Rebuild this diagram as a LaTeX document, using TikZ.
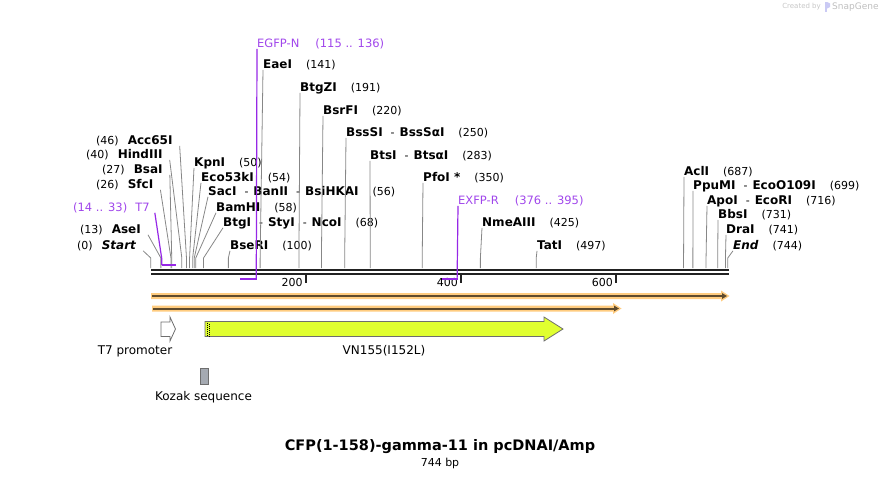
\documentclass[tikz,border=0pt]{standalone}
\usepackage{fontspec}
\setmainfont{DejaVu Sans}
\usetikzlibrary{arrows.meta}

\definecolor{mapline}{RGB}{34,34,34}
\definecolor{leadgray}{RGB}{135,135,135}
\definecolor{primer}{RGB}{150,40,230}
\definecolor{primertext}{RGB}{160,70,235}
\definecolor{orfband}{RGB}{255,204,128}
\definecolor{orfdark}{RGB}{95,75,45}
\definecolor{cdsfill}{RGB}{224,255,48}
\definecolor{kozakfill}{RGB}{165,170,178}
\definecolor{featedge}{RGB}{110,110,110}

\newcommand{\nm}[1]{{\fontsize{12}{14}\selectfont\bfseries #1}}
\newcommand{\sepr}{\hspace{8pt}-\hspace{5pt}}
\newcommand{\gapr}{\hspace{14pt}}
\newcommand{\gapl}{\hspace{9pt}}

% site label right of its cut, leader from the left corner
\newcommand{\rsite}[5]{%
    \node[site label] (l#1) at (#3,#4) {#2};
    \coordinate (k#1) at ({150.8+0.7755*#5},258);
    \coordinate (b#1) at ({150.8+0.7755*#5},268);
    \draw[leader] (l#1.south west) -- (k#1) -- (b#1);}
% site label left of its cut, leader from the right corner
\newcommand{\lsite}[5]{%
    \node[site label] (l#1) at (#3,#4) {#2};
    \coordinate (k#1) at ({150.8+0.7755*#5},258);
    \coordinate (b#1) at ({150.8+0.7755*#5},268);
    \draw[leader] ([xshift=7pt]l#1.south east) -- (k#1) -- (b#1);}

\begin{document}
\begin{tikzpicture}[x=1pt, y=-1pt,
    site label/.style={anchor=west, inner sep=0pt, text height=10pt, text depth=1.2pt, font=\fontsize{11}{13}\selectfont},
    primer label/.style={site label, text=primertext, font=\fontsize{11.5}{13}\selectfont},
    leader/.style={draw=leadgray, line width=0.8pt},
    primer line/.style={draw=primer, line width=1.2pt},
    primer bar/.style={draw=primer, line width=2.2pt},
    backbone/.style={draw=mapline, line width=2.3pt},
    feat label/.style={inner sep=0pt, font=\fontsize{12}{14}\selectfont},
    scale label/.style={anchor=east, inner sep=0pt, font=\fontsize{11}{13}\selectfont}]
    \useasboundingbox (0,0) rectangle (881,479);

    % backbone and scale
    \draw[backbone] (151,270) -- (729,270);
    \draw[backbone] (151,274.3) -- (729,274.3);
    \foreach \bp in {200,400,600}{
        \coordinate (t\bp) at ({150.8+0.7755*\bp},275);
        \draw[mapline, line width=1.6pt] (t\bp) -- ++(0,8);
        \node[scale label] (n\bp) at ([xshift=-3pt, yshift=-7pt]t\bp) {\bp};
    }

    % sites left of the cluster
    \lsite{Start}{(0)\gapl\nm{\itshape Start}}{77}{245}{0}
    \lsite{AseI}{(13)\gapl\nm{AseI}}{80}{229}{13}
    \lsite{SfcI}{(26)\gapl\nm{SfcI}}{96}{184}{26}
    \lsite{BsaI}{(27)\gapl\nm{BsaI}}{102}{169}{27}
    \lsite{HindIII}{(40)\gapl\nm{HindIII}}{86}{154}{40}
    \lsite{Acc}{(46)\gapl\nm{Acc65I}}{96}{140}{46}

    % sites right of their cuts
    \rsite{KpnI}{\nm{KpnI}\gapr(50)}{194}{162}{50}
    \rsite{Eco}{\nm{Eco53kI}\gapr(54)}{201}{177}{54}
    \rsite{SacI}{\nm{SacI}\sepr\nm{BanII}\sepr\nm{BsiHKAI}\gapr(56)}{208}{191}{56}
    \rsite{BamHI}{\nm{BamHI}\gapr(58)}{216}{207}{58}
    \rsite{BtgI}{\nm{BtgI}\sepr\nm{StyI}\sepr\nm{NcoI}\gapr(68)}{223}{222}{68}
    \rsite{BseRI}{\nm{BseRI}\gapr(100)}{230}{245}{100}
    \rsite{EaeI}{\nm{EaeI}\gapr(141)}{263}{64}{141}
    \rsite{BtgZI}{\nm{BtgZI}\gapr(191)}{300}{87}{191}
    \rsite{BsrFI}{\nm{BsrFI}\gapr(220)}{323}{110}{220}
    \rsite{BssSI}{\nm{BssSI}\sepr\nm{BssSαI}\gapr(250)}{346}{132}{250}
    \rsite{BtsI}{\nm{BtsI}\sepr\nm{BtsαI}\gapr(283)}{370}{155}{283}
    \rsite{PfoI}{\nm{PfoI *}\gapr(350)}{423}{177}{350}
    \rsite{Nme}{\nm{NmeAIII}\gapr(425)}{482}{222}{425}
    \rsite{TatI}{\nm{TatI}\gapr(497)}{537}{245}{497}
    \rsite{AclI}{\nm{AclI}\gapr(687)}{684}{171}{687}
    \rsite{PpuMI}{\nm{PpuMI}\sepr\nm{EcoO109I}\gapr(699)}{693}{185}{699}
    \rsite{ApoI}{\nm{ApoI}\sepr\nm{EcoRI}\gapr(716)}{707}{200}{716}
    \rsite{BbsI}{\nm{BbsI}\gapr(731)}{718}{214}{731}
    \rsite{DraI}{\nm{DraI}\gapr(741)}{726}{229}{741}
    \rsite{End}{\nm{\itshape End}\gapr(744)}{733}{245}{744}

    % primers
    \node[primer label] (pT7) at (73,207) {(14 .. 33)\hspace{8pt}T7};
    \coordinate (pT7k) at ({150.8+0.7755*14},258);
    \coordinate (pT7a) at ({150.8+0.7755*14},265);
    \coordinate (pT7b) at ({150.8+0.7755*33},265);
    \draw[primer line] ([xshift=5pt]pT7.south east) -- (pT7k) -- (pT7a);
    \draw[primer bar] (pT7a) -- (pT7b);

    \node[primer label] (pEGFP) at (257,43) {EGFP-N\hspace{16pt}(115 .. 136)};
    \coordinate (pEGFPa) at ({150.8+0.7755*136},279);
    \coordinate (pEGFPb) at ({150.8+0.7755*115},279);
    \draw[primer line] (pEGFP.south west) -- (pEGFPa);
    \draw[primer bar] ([xshift=0.6pt]pEGFPa) -- (pEGFPb);

    \node[primer label] (pEXFP) at (458,200) {EXFP-R\hspace{16pt}(376 .. 395)};
    \coordinate (pEXFPa) at ({150.8+0.7755*395},279);
    \coordinate (pEXFPb) at ({150.8+0.7755*376},279);
    \draw[primer line] (pEXFP.south west) -- (pEXFPa);
    \draw[primer bar] ([xshift=0.6pt]pEXFPa) -- (pEXFPb);

    % open reading frames
    \fill[orfband] (151,293) -- (721,293) -- (721,290.5) -- (729.5,296) -- (721,301.5) -- (721,299) -- (151,299) -- cycle;
    \draw[orfdark, line width=2pt, -{Triangle[length=5pt, width=5.5pt]}] (152,296) -- (727,296);
    \fill[orfband] (152,305.5) -- (613,305.5) -- (613,303) -- (621.5,308.5) -- (613,314) -- (613,311.5) -- (152,311.5) -- cycle;
    \draw[orfdark, line width=2pt, -{Triangle[length=5pt, width=5.5pt]}] (153,308.5) -- (619,308.5);

    % features
    \draw[featedge, fill=white, line width=0.8pt] (161,322) -- (170,322) -- (170,317) -- (175.5,329) -- (170,341) -- (170,336.5) -- (161,336.5) -- cycle;
    \node[feat label] (fT7) at (135,351) {T7 promoter};

    \draw[featedge, fill=cdsfill, line width=0.8pt] (205,321.5) -- (544,321.5) -- (544,317) -- (563,329) -- (544,341) -- (544,336.5) -- (205,336.5) -- cycle;
    \draw[black, line width=1pt, dash pattern=on 1pt off 1pt] (207,322.5) -- (207,336);
    \draw[black, line width=1pt, dash pattern=on 1pt off 1pt] (209.3,323.5) -- (209.3,336);
    \node[feat label] (fVN) at (384,351) {VN155(I152L)};

    \draw[featedge, fill=kozakfill, line width=0.8pt] (200.5,368) rectangle (208.5,384);
    \node[feat label] (fKozak) at (203.5,397) {Kozak sequence};

    % title
    \node[inner sep=0pt, font=\fontsize{14.5}{16}\selectfont\bfseries] (title) at (440,447) {CFP(1-158)-gamma-11 in pcDNAI/Amp};
    \node[inner sep=0pt, font=\fontsize{11}{13}\selectfont] (size) at (440,463) {744 bp};

    % watermark
    \node[inner sep=0pt, anchor=east, text=gray!45, font=\fontsize{7}{8}\selectfont] (made) at (821,7) {Created by};
    \fill[gray!35!blue!25] (824.5,2) rectangle (827,12);
    \fill[gray!35!blue!25] (827,2) -- (830,3.5) -- (830,7) -- (827,8.5) -- cycle;
    \node[inner sep=0pt, anchor=west, text=gray!50, font=\fontsize{9}{10}\selectfont] (snap) at (832,7) {SnapGene};
\end{tikzpicture}
\end{document}
